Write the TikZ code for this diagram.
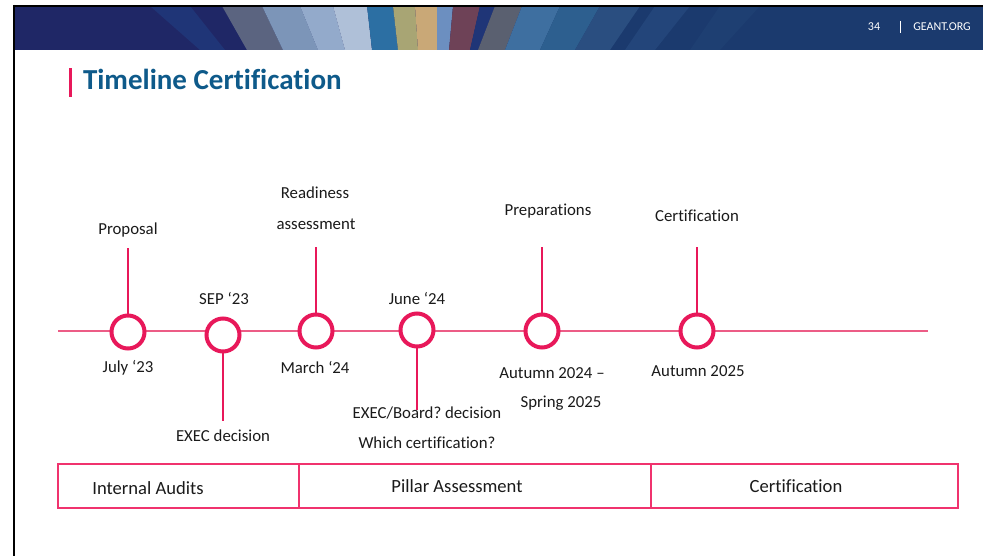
\documentclass[tikz,border=0pt]{standalone}
\usepackage{fontspec}
\setmainfont{Carlito}[Ligatures=NoCommon]
\usepackage{tikz}
\frenchspacing

\definecolor{navy}{HTML}{1F2766}
\definecolor{titleblue}{HTML}{0E5A8A}
\definecolor{crimson}{HTML}{E8185A}
\definecolor{rose}{HTML}{EC5C86}
\definecolor{boxrose}{HTML}{F0336E}
\definecolor{ink}{HTML}{1A1A1A}
\definecolor{sa}{HTML}{5B6480}
\definecolor{sb}{HTML}{7C95B8}
\definecolor{sc}{HTML}{93AACB}
\definecolor{sd}{HTML}{AFC0D8}
\definecolor{se}{HTML}{2C6FA3}
\definecolor{sf}{HTML}{A8A574}
\definecolor{sg}{HTML}{C9A877}
\definecolor{sh}{HTML}{6C8FC0}
\definecolor{si}{HTML}{6E4257}
\definecolor{sj}{HTML}{1F3577}
\definecolor{sk}{HTML}{5A6070}
\definecolor{sl}{HTML}{3E6FA0}
\definecolor{sm}{HTML}{2D5F8F}
\definecolor{sn}{HTML}{2A4E80}
\definecolor{so}{HTML}{23457A}
\definecolor{sp}{HTML}{1E3F72}
\definecolor{sq}{HTML}{1B3A6E}

\begin{document}
\begin{tikzpicture}[x=1pt, y=-1pt]
\tikzset{ inner sep=0pt, outer sep=0pt,
  stone/.style={circle, draw=crimson, line width=4pt, fill=white, minimum size=33pt},
  stem/.style={draw=crimson, line width=1.2pt},
  lbl/.style={font=\fontsize{16.8}{19}\selectfont, text=ink},
  cell/.style={draw=boxrose, line width=1.3pt, anchor=north west, minimum height=44pt},
  celltxt/.style={font=\fontsize{18.6}{21}\selectfont, text=ink},
}

\useasboundingbox (0,0) rectangle (983,556);

% header band
\fill [navy] (14,6) rectangle (983,50);
\fill [sq] (560,6) -- (983,6) -- (983,50) -- (520,50) -- cycle;
\fill [sj] (150,6) -- (190,6) -- (225,50) -- (200,50) -- cycle;
\fill [sa] (222,6) -- (262,6) -- (283,50) -- (247,50) -- cycle;
\fill [sb] (262,6) -- (300,6) -- (318,50) -- (283,50) -- cycle;
\fill [sc] (300,6) -- (333,6) -- (345,50) -- (318,50) -- cycle;
\fill [sd] (333,6) -- (367,6) -- (372,50) -- (345,50) -- cycle;
\fill [se] (367,6) -- (393,6) -- (398,50) -- (372,50) -- cycle;
\fill [sf] (393,6) -- (415,6) -- (418,50) -- (398,50) -- cycle;
\fill [sg] (415,6) -- (437,6) -- (437,50) -- (418,50) -- cycle;
\fill [sh] (437,6) -- (453,6) -- (449,50) -- (437,50) -- cycle;
\fill [si] (453,6) -- (480,6) -- (470,50) -- (449,50) -- cycle;
\fill [sj] (480,6) -- (495,6) -- (478,50) -- (470,50) -- cycle;
\fill [sk] (495,6) -- (522,6) -- (505,50) -- (478,50) -- cycle;
\fill [sl] (522,6) -- (560,6) -- (540,50) -- (505,50) -- cycle;
\fill [sm] (560,6) -- (600,6) -- (575,50) -- (540,50) -- cycle;
\fill [sn] (600,6) -- (640,6) -- (610,50) -- (575,50) -- cycle;
\fill [so] (655,6) -- (690,6) -- (655,50) -- (625,50) -- cycle;
\fill [sp] (720,6) -- (760,6) -- (720,50) -- (690,50) -- cycle;
\draw [black, line width=2pt] (13,6) -- (983,6);
\draw [black, line width=2pt] (14,5) -- (14,556);

\node [text=white, font=\fontsize{12}{14}\selectfont] (pg) at (874,27) {34};
\node [text=white, font=\fontsize{12}{14}\selectfont] (site) at (942,27) {GEANT.ORG};
\draw [white, line width=0.5pt] (900,21) -- (900,33);

% title
\fill [crimson] (69,68) rectangle (72,97);
\node [anchor=west, text=titleblue, font=\fontsize{29}{33}\selectfont\bfseries] (title) at (83,79) {Timeline Certification};

% time axis
\coordinate (L) at (58,331);
\coordinate (R) at (928,331);
\draw [rose, line width=1.5pt] (L) -- (R);

\node [stone] (jul) at (128,332) {};
\node [stone] (sep) at (223,335) {};
\node [stone] (mar) at (316,331) {};
\node [stone] (jun) at (417,330) {};
\node [stone] (aut) at (542,331) {};
\node [stone] (cer) at (697,331) {};

\coordinate (jul-top) at (128,248);
\coordinate (sep-bot) at (223,421);
\coordinate (mar-top) at (316,247);
\coordinate (jun-bot) at (417,410);
\coordinate (aut-top) at (542,247);
\coordinate (cer-top) at (697,247);

\draw [stem] (jul) -- (jul-top);
\draw [stem] (sep) -- (sep-bot);
\draw [stem] (mar) -- (mar-top);
\draw [stem] (jun) -- (jun-bot);
\draw [stem] (aut) -- (aut-top);
\draw [stem] (cer) -- (cer-top);

% labels
\node [lbl] (t1) at (128,230) {Proposal};
\node [lbl] (t2) at (315,193) {Readiness};
\node [lbl] (t3) at (316,224) {assessment};
\node [lbl] (t4) at (548,211) {Preparations};
\node [lbl] (t5) at (697,216) {Certification};
\node [lbl] (t6) at (224,298) {SEP ‘23};
\node [lbl] (t7) at (417,299) {June ‘24};
\node [lbl] (b1) at (128,368) {July ‘23};
\node [lbl] (b2) at (315,368) {March ‘24};
\node [lbl] (b3) at (552,373) {Autumn 2024 –};
\node [lbl] (b4) at (561,403) {Spring 2025};
\node [lbl] (b5) at (698,371) {Autumn 2025};
\node [lbl] (b6) at (223,436) {EXEC decision};
\node [lbl] (b7) at (427,413) {EXEC/Board? decision};
\node [lbl] (b8) at (427,443) {Which certification?};

% phases
\node [cell, minimum width=241pt] (p1) at (58,464) {};
\node [cell, minimum width=352pt] (p2) at (299,464) {};
\node [cell, minimum width=307pt] (p3) at (651,464) {};
\node [celltxt] (p1t) at (148,488) {Internal Audits};
\node [celltxt] (p2t) at (457,486) {Pillar Assessment};
\node [celltxt] (p3t) at (796,486) {Certification};

\end{tikzpicture}
\end{document}
